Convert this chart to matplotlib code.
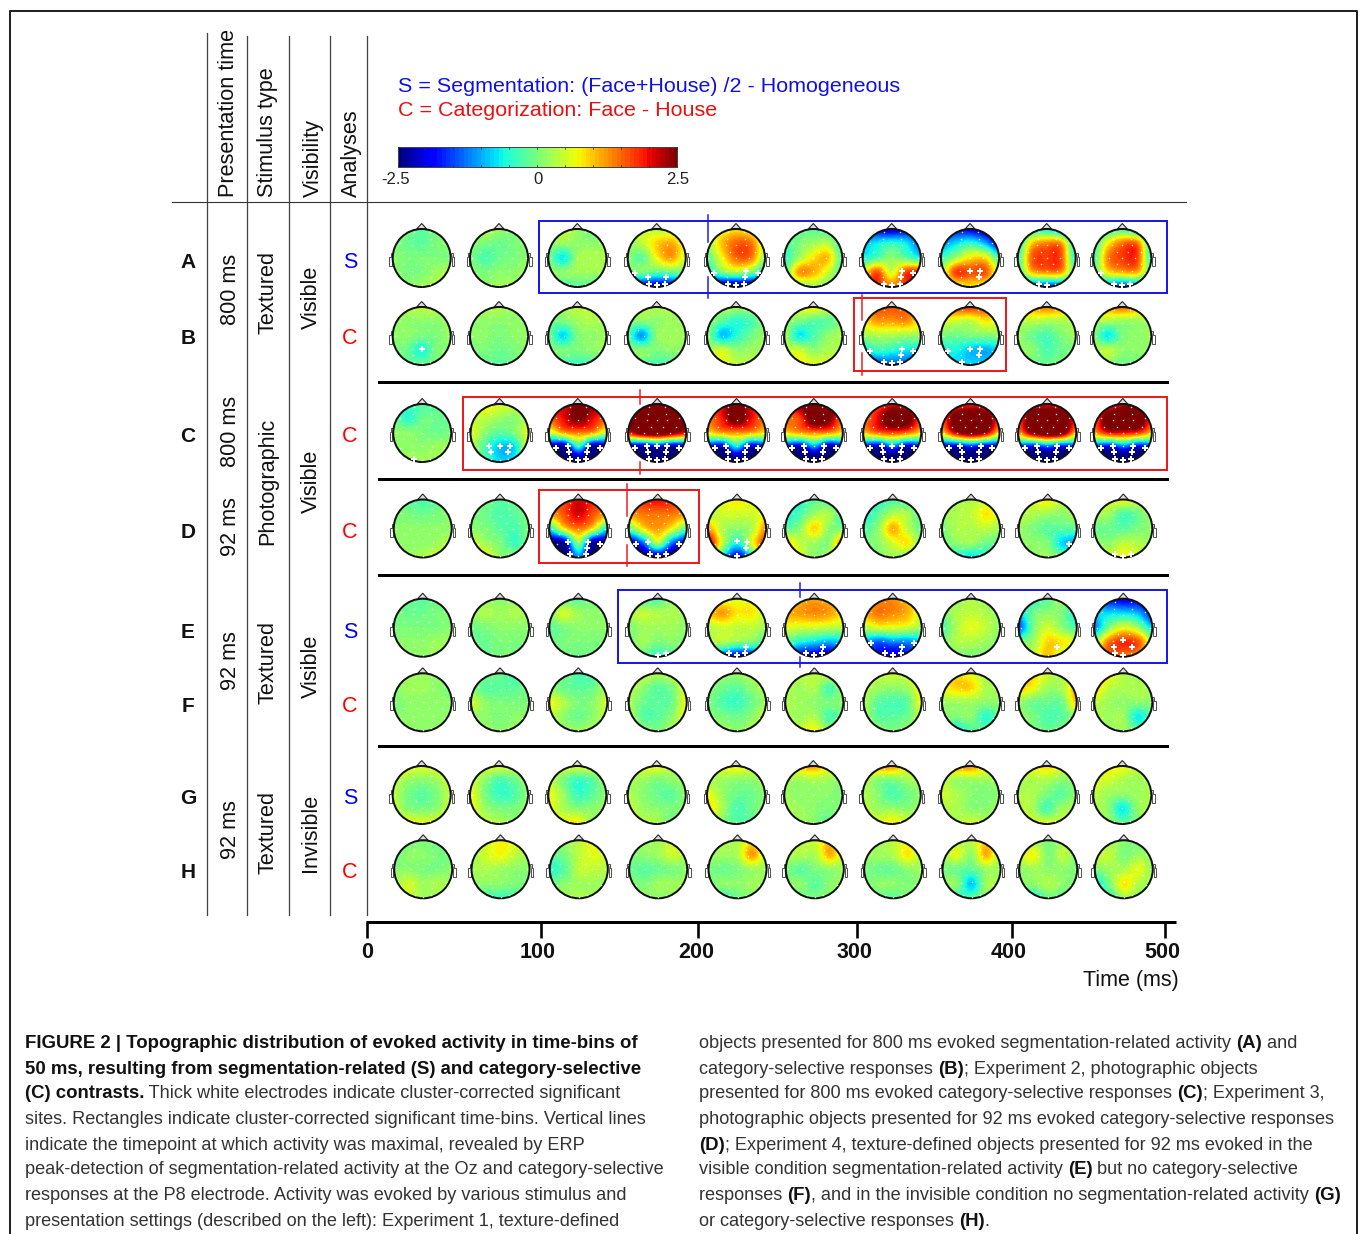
import numpy as np
import matplotlib
matplotlib.use("Agg")
import matplotlib.pyplot as plt
from matplotlib.patches import Circle, Polygon, Rectangle

plt.rcParams["font.family"] = ["Liberation Sans", "DejaVu Sans"]

# scalp maps: 5x5 samples per head, top row first, in tenths of the colour scale
row_a = [
    [-1,0,-2,0,0, 0,-1,-2,0,1, 1,0,0,0,0, 1,0,0,2,3, 1,1,2,3,3],
    [3,4,2,0,0, 1,0,-1,0,0, 0,-3,-1,0,1, 1,0,1,1,2, 1,1,2,2,2],
    [2,4,2,-1,-1, 1,2,1,1,1, 0,-7,2,3,3, 1,1,2,2,2, -2,-3,-2,-2,-2],
    [3,5,3,3,1, 2,4,9,11,6, 1,-2,7,12,5, -1,0,-2,-1,-1, -16,-20,-21,-20,-16],
    [3,6,8,6,1, 2,10,15,14,3, -2,7,15,14,1, -7,0,3,0,-8, -20,-24,-25,-24,-20],
    [-3,-2,-2,-3,-4, -3,0,2,3,-5, -5,2,8,10,-3, -3,12,11,5,-3, -1,0,2,0,-1],
    [-18,-20,-22,-20,-18, -10,-7,-5,-7,-14, -6,-3,1,-2,-6, 6,16,5,17,18, 17,18,14,17,19],
    [-20,-18,-20,-22,-24, -12,-8,-5,-10,-20, -4,2,8,8,-4, 3,17,16,16,4, 3,6,8,6,3],
    [-10,-6,-7,-12,-16, -7,9,13,12,-8, -5,15,17,16,-6, -5,10,13,12,-3, -12,-15,-16,-15,-12],
    [-9,-5,-4,-9,-12, -5,7,14,14,-6, -4,13,17,17,-5, -3,8,11,11,-3, -10,-13,-16,-13,-10],
]
row_b = [
    [3,4,4,4,2, 2,1,1,1,2, 1,1,0,0,2, 0,-1,-6,0,0, 0,-1,-1,0,0],
    [3,3,3,2,1, 1,1,1,1,1, 1,1,0,1,1, 0,0,-1,0,1, 0,-1,-2,-1,0],
    [1,2,4,4,2, -1,0,2,3,2, 0,-8,0,1,2, 0,0,0,1,2, -2,-3,-4,-3,-2],
    [2,3,3,3,2, 0,1,1,2,2, -2,-11,1,2,2, 0,1,0,1,1, -2,-2,-3,-3,-2],
    [2,3,3,2,2, 1,-2,-5,-3,1, 1,-9,-5,-1,2, 2,5,1,2,2, 4,6,4,3,4],
    [6,7,8,6,4, 2,0,-2,-2,1, 3,-7,-3,1,3, 3,5,1,3,2, 6,7,6,5,4],
    [14,16,16,15,12, 8,12,12,13,8, 2,3,3,2,2, -8,-4,-5,-7,-8, -17,-16,-14,-14,-17],
    [15,17,18,16,10, 6,5,4,8,6, 0,-1,0,0,1, -6,-6,-9,-10,-8, -6,-8,-8,-8,-7],
    [9,12,14,12,5, 3,4,3,3,3, 2,-1,-3,0,2, 1,1,-3,-1,0, 0,-1,-1,0,0],
    [8,12,15,12,4, 3,3,2,2,2, 1,-7,0,1,2, 2,4,1,1,1, 0,0,-1,0,0],
]
row_c = [
    [-1,-3,-3,-2,-1, 0,-5,-1,-1,-2, 1,1,0,-1,0, 1,1,1,2,2, 3,3,2,2,2],
    [5,8,6,5,3, 4,4,2,1,3, 6,1,-2,0,6, 4,-3,-9,-8,6, 5,-2,-8,-6,5],
    [18,20,25,24,16, 16,20,26,20,16, 4,12,14,12,3, -22,-25,-6,-25,-22, -32,-32,-28,-32,-32],
    [28,30,32,32,28, 24,30,32,32,26, 20,28,30,26,20, -22,-24,-20,-24,-22, -30,-30,-32,-30,-30],
    [16,20,27,20,16, 14,19,28,20,14, 8,12,13,12,8, -18,-22,-8,-22,-18, -32,-32,-30,-32,-32],
    [15,25,30,28,12, 15,17,30,26,13, 9,12,14,13,8, -18,-22,-12,-24,-18, -32,-32,-32,-32,-32],
    [12,16,20,18,12, 14,20,30,28,16, 10,15,17,15,9, -18,-23,-14,-22,-18, -32,-32,-32,-32,-32],
    [10,16,18,16,8, 14,28,32,30,16, 9,22,28,24,9, -20,-22,-18,-22,-20, -32,-32,-32,-32,-32],
    [12,18,20,18,10, 15,30,32,30,17, 12,26,30,28,10, -16,-20,-15,-20,-16, -32,-32,-32,-32,-32],
    [10,15,22,24,15, 14,30,32,32,16, 12,20,20,18,10, -16,-20,-14,-20,-16, -32,-32,-32,-32,-32],
]
row_d = [
    [0,-2,-3,-2,0, 0,0,-1,0,1, 1,1,1,1,1, 1,1,1,2,4, 2,2,3,5,5],
    [1,0,-2,-1,0, 0,-1,-3,-2,0, 1,0,-2,-3,0, 5,2,0,-4,1, 8,7,1,2,4],
    [13,16,21,18,12, 12,16,21,16,12, -6,8,14,8,-7, -24,-24,1,-24,-23, -28,-26,-12,-26,-28],
    [12,18,20,18,12, 12,14,14,14,12, -2,8,12,7,-2, -22,-14,3,-13,-20, -28,-26,-24,-26,-28],
    [6,7,8,7,6, 3,5,5,5,7, 12,3,1,3,13, 22,4,-6,6,18, 18,-6,-20,-6,16],
    [-4,-5,-2,-3,-3, -6,-3,2,3,-4, -2,1,9,1,0, 10,4,2,1,15, 12,6,1,3,14],
    [-6,-5,-3,-3,-3, -6,-2,3,3,-3, -3,1,11,4,-1, 0,1,5,8,0, -1,0,2,0,-1],
    [2,3,3,4,4, 2,3,4,8,5, 0,3,3,4,2, -1,1,2,-1,-1, -3,-6,-8,-5,-2],
    [4,6,8,4,2, 4,3,2,1,3, 2,0,-2,-2,-2, 1,1,0,-8,-10, 2,1,2,0,-1],
    [3,6,7,6,3, 3,2,-3,-1,3, -1,-1,-2,0,1, 2,1,4,3,2, 4,5,7,5,3],
]
row_e = [
    [0,-1,-2,-1,0, 0,-1,-1,0,0, 0,0,0,0,1, 1,1,1,2,2, 1,1,1,2,2],
    [0,1,1,1,1, 2,3,2,3,2, -1,0,1,1,1, -1,-1,0,0,0, -1,-1,0,0,0],
    [-2,-2,-2,0,1, 1,5,2,1,1, -2,0,1,1,1, -1,0,0,0,0, 0,0,-1,0,0],
    [-3,-3,-3,1,1, 3,4,3,3,2, 0,2,2,2,1, 0,2,0,1,0, 0,-1,-5,-3,-1],
    [3,5,6,6,2, 10,12,8,8,3, 3,5,4,4,2, 3,3,1,0,-3, -2,-14,-20,-18,-6],
    [5,10,12,10,5, 11,12,13,12,8, 6,5,5,4,3, -2,-6,-8,-10,-8, -12,-20,-21,-22,-14],
    [7,12,13,10,3, 11,14,13,11,5, 3,6,6,5,2, -9,-14,-12,-12,-9, -16,-18,-22,-18,-16],
    [1,2,3,2,0, 0,3,4,3,1, -3,3,6,4,1, 0,3,3,2,0, 0,0,0,0,0],
    [-7,-5,-2,2,-5, -8,-1,1,0,-6, -15,-1,5,1,-3, 0,2,9,8,5, 1,4,10,4,0],
    [-16,-18,-20,-20,-22, -8,-8,-8,-10,-18, -12,0,6,2,-8, 2,14,18,16,4, 8,16,14,12,6],
]
row_f = [
    [1,2,2,1,1, 1,2,2,1,0, 0,1,1,1,1, 1,1,1,1,1, 2,2,1,1,2],
    [0,0,-1,-3,0, 0,-2,-2,-2,0, 5,1,0,0,0, 1,1,0,1,1, 1,1,1,1,1],
    [2,0,-3,-3,1, 1,-1,-2,-1,3, 7,3,0,1,5, 4,1,-1,1,4, 3,2,2,3,3],
    [6,5,3,4,6, 4,1,-2,0,6, 3,-1,-2,-1,7, 4,-2,-2,1,7, 5,2,0,3,5],
    [3,2,2,3,3, 1,-1,-2,1,3, 0,-3,-4,-1,2, 1,0,-1,1,5, 2,2,1,3,4],
    [3,4,4,5,4, 3,2,3,-3,2, 3,2,1,0,1, 3,2,3,-3,0, 4,5,7,2,2],
    [4,4,5,5,7, 4,2,1,2,7, 3,-2,-3,-2,7, 3,-2,-2,-1,4, 2,2,0,2,4],
    [8,9,6,3,3, 7,9,9,3,3, 2,2,2,1,1, 1,0,1,-5,0, -3,-7,-3,-1,0],
    [10,9,5,2,4, 10,7,2,3,11, 2,-1,-1,-1,10, 2,0,-3,-2,1, 1,0,-1,0,1],
    [11,8,3,2,3, 10,4,3,3,3, 4,2,1,1,1, 3,2,2,-7,-1, 2,2,2,0,0],
]
row_g = [
    [7,7,6,6,7, 5,2,1,2,5, 4,0,-2,0,4, 5,1,0,1,5, 7,7,6,6,6],
    [5,6,6,5,3, 5,1,-3,-1,2, 7,0,-4,-3,1, 7,2,0,0,2, 4,4,3,1,1],
    [6,6,6,6,4, 5,0,-4,-2,2, 7,2,-4,-2,1, 7,3,1,1,2, 6,7,8,2,1],
    [4,6,7,4,3, 2,2,0,1,2, 3,1,-1,-2,1, 5,2,1,0,1, 4,3,3,-1,0],
    [6,7,8,6,3, 3,2,1,1,2, 7,2,-1,-1,1, 9,3,-3,-1,1, 3,0,-2,-2,0],
    [8,10,12,8,4, 3,2,3,2,1, 2,1,1,1,0, 3,2,1,0,1, 2,2,1,-2,0],
    [10,12,13,8,4, 5,1,0,2,3, 3,1,-3,-1,1, 5,2,2,1,2, 7,6,8,6,4],
    [10,12,13,9,5, 5,2,2,2,2, 5,3,1,0,1, 3,3,1,1,2, 3,3,5,3,2],
    [4,7,9,7,3, 3,3,3,1,1, 3,3,0,-2,1, 4,3,-3,2,3, 6,5,6,4,3],
    [7,8,7,5,3, 6,5,3,2,3, 4,2,1,2,3, 3,1,-7,1,3, 3,2,-1,0,2],
]
row_h = [
    [-1,0,0,-1,-1, -1,1,1,0,-1, 1,1,0,0,1, 2,5,2,3,2, 2,4,2,2,2],
    [2,5,7,7,3, 2,5,7,4,2, 2,3,2,1,1, 1,1,1,0,0, -2,-3,-4,-3,0],
    [0,2,4,7,3, -2,0,4,6,4, -5,-2,4,4,3, -1,1,2,2,2, 1,2,3,2,2],
    [1,2,2,5,2, 0,1,2,5,2, -1,-2,-1,0,1, 1,0,2,2,2, 2,2,1,1,1],
    [1,3,3,8,3, 2,2,3,12,3, 0,-1,0,2,2, 0,1,1,2,2, -2,-4,-1,1,1],
    [3,4,5,10,4, 3,3,3,11,3, 0,-2,0,1,2, 1,1,-2,1,2, -1,-1,0,1,2],
    [1,2,4,6,3, 2,2,3,8,2, 0,-1,-1,1,2, 0,1,1,0,1, -1,-1,-2,1,1],
    [2,3,4,9,4, 2,6,1,11,2, 0,-1,-2,2,2, 1,1,-9,2,2, -3,-5,-2,1,1],
    [1,2,0,2,1, 5,7,0,4,0, 1,2,1,1,0, 1,1,3,1,0, -3,-6,-1,-2,-1],
    [0,2,1,-1,0, 4,4,0,2,1, 0,2,3,6,1, -7,0,8,3,2, -3,-4,2,1,1],
]

row_names = list("ABCDEFGH")
row_maps = [row_a, row_b, row_c, row_d, row_e, row_f, row_g, row_h]
row_analyses = ["S", "C", "C", "C", "S", "C", "S", "C"]

# electrode layout, head radius = 1
electrodes = {
    "Fp1": (-.28, -.88), "Fp2": (.28, -.88), "AF3": (-.31, -.66), "AF4": (.31, -.66),
    "F7": (-.75, -.53), "F3": (-.35, -.46), "Fz": (0, -.44), "F4": (.35, -.46), "F8": (.75, -.53),
    "FC5": (-.65, -.2), "FC1": (-.2, -.2), "FC2": (.2, -.2), "FC6": (.65, -.2),
    "T7": (-.92, 0), "C3": (-.45, 0), "Cz": (0, 0), "C4": (.45, 0), "T8": (.92, 0),
    "CP5": (-.65, .2), "CP1": (-.2, .2), "CP2": (.2, .2), "CP6": (.65, .2),
    "P7": (-.75, .53), "P3": (-.35, .46), "Pz": (0, .44), "P4": (.35, .46), "P8": (.75, .53),
    "PO3": (-.31, .66), "PO4": (.31, .66), "O1": (-.28, .88), "Oz": (0, .94), "O2": (.28, .88),
}

back_all = "P7 P3 P4 P8 PO3 PO4 O1 Oz O2"
significant = {
    ("A", 3): "P7 PO3 PO4 O1 Oz O2", ("A", 4): "P7 O1 Oz O2 PO4 P4 P8",
    ("A", 6): "P4 P8 PO4 O1 Oz O2", ("A", 7): "Pz P4 PO4", ("A", 8): "O1 Oz",
    ("A", 9): "P7 O1 Oz O2",
    ("B", 0): "Pz", ("B", 6): "P7 P4 P8 PO4 O1 Oz O2", ("B", 7): "P7 Pz P4 PO4 O1",
    ("C", 0): "O1", ("C", 1): "P3 Pz P4 PO3 PO4", ("C", 2): back_all,
    ("C", 3): back_all + " Pz", ("C", 4): back_all, ("C", 5): back_all,
    ("C", 6): back_all + " Pz", ("C", 7): back_all, ("C", 8): back_all, ("C", 9): back_all,
    ("D", 2): "P3 P4 P8 PO4 O1 O2", ("D", 3): "P7 P3 P8 O1 Oz O2",
    ("D", 4): "Pz P4 PO4 Oz", ("D", 8): "P8", ("D", 9): "O1 Oz O2",
    ("E", 3): "Oz O2", ("E", 4): "PO4 O1 Oz O2", ("E", 5): "PO4 O1 Oz O2",
    ("E", 6): "P7 P8 PO4 O1 Oz O2", ("E", 8): "PO4", ("E", 9): "Pz PO3 PO4 O1 Oz",
}

time_ticks = [0, 100, 200, 300, 400, 500]
colorbar_labels = ["-2.5", "0", "2.5"]

# layout in pixels
head_x = [421.7, 499, 577.3, 656.7, 736, 813.3, 891.7, 970, 1046.7, 1122.3]
head_y = [258, 336, 433, 528.5, 627.7, 702.3, 795, 869.3]
row_dx = [0, 0, .5, 1, 1, 1, 0, 1.5]
R = 29
tick_px = [367, 541, 698, 856.7, 1011.7, 1165]
ticklabel_px = [367.5, 538, 696, 854, 1009, 1162]

boxes = [
    (539, 220.5, 1166.5, 293, "#1a1af0"), (853.5, 298, 1006, 371, "#f01a1a"),
    (462.5, 397, 1167, 470, "#f01a1a"), (538.5, 490, 698.5, 563, "#f01a1a"),
    (618, 590, 1167, 663, "#1a1af0"),
]
peaks = [
    (708, 215, 242, 277, 298, "#1a1af0"), (862.3, 295, 320, 353, 375, "#f01a1a"),
    (640, 390, 404, 462, 474, "#f01a1a"), (626.7, 484, 516, 545, 566, "#f01a1a"),
    (800.3, 583, 597, 657, 667, "#1a1af0"),
]

fig = plt.figure(figsize=(13.6, 12.34), dpi=100)
ax = fig.add_axes([0, 0, 1, 1])
ax.axis("off")
cmap = plt.get_cmap("jet", 64)
px = 0.72  # one pixel in points

# outer frame, open at the bottom
ax.plot([9.5, 9.5, 1357, 1357], [1234, 11, 11, 1234], color="#222222", lw=2 * px)

# table rules
for x, top in zip([207, 247, 289, 330, 367], [33, 36, 36, 36, 36]):
    ax.plot([x, x], [top, 915], color="#444444", lw=1.3 * px)
ax.plot([172, 1186], [202, 202], color="#333333", lw=1.1 * px)
for y in [381.5, 478.5, 575, 746]:
    ax.plot([379, 1167], [y, y], color="black", lw=3 * px)

# headers and condition labels
headers = [(229, "Presentation time"), (268, "Stimulus type"), (313, "Visibility"), (351, "Analyses")]
for x, s in headers:
    ax.text(x, 197, s, rotation=90, ha="center", va="bottom", fontsize=15.6, color="#111111")
col_labels = [
    (230, 289, "800 ms"), (231, 431, "800 ms"), (230, 527, "92 ms"), (230, 661, "92 ms"), (230, 830, "92 ms"),
    (268, 293, "Textured"), (268, 481, "Photographic"), (268, 663, "Textured"), (268, 833, "Textured"),
    (311, 297, "Visible"), (311, 481, "Visible"), (311, 666, "Visible"), (310, 833, "Invisible"),
]
for x, y, s in col_labels:
    ax.text(x, y, s, rotation=90, ha="center", va="center", fontsize=15.6, color="#111111")

label_y = [263, 339, 436, 533, 632, 706, 798, 872]
for name, kind, y in zip(row_names, row_analyses, label_y):
    ax.text(188, y, name, ha="center", va="center", fontsize=15, fontweight="bold", color="#111111")
    ax.text(350, y, kind, ha="center", va="center", fontsize=15.5, color="blue" if kind == "S" else "red")

# legend text and colour bar
ax.text(398, 86, "S = Segmentation: (Face+House) /2 - Homogeneous", color="#1010e0", fontsize=15.45, va="center")
ax.text(398, 111, "C = Categorization: Face - House", color="#e81010", fontsize=15.45, va="center")
ax.imshow(np.linspace(-2.5, 2.5, 64)[None, :], cmap=cmap, vmin=-2.5, vmax=2.5, extent=(397.5, 677, 167, 147),
          aspect="auto", interpolation="nearest")
ax.add_patch(Rectangle((397.5, 147), 279.5, 20, fc="none", ec="#444444", lw=1 * px))
for v in np.arange(-2.5, 2.51, 0.5):
    x = 537.25 + v * 55.9
    ax.plot([x, x], [147, 149], color="#333333", lw=.8 * px)
    ax.plot([x, x], [165, 167], color="#333333", lw=.8 * px)
for x, s in zip([396, 537.5, 678], colorbar_labels):
    ax.text(x, 179.5, s, ha="center", va="center", fontsize=12, color="#222222")

# significance rectangles and peak markers
for x0, y0, x1, y1, c in boxes:
    ax.add_patch(Rectangle((x0, y0), x1 - x0, y1 - y0, fc="none", ec=c, lw=2 * px, zorder=2))
for x, a, b, c_, d, col in peaks:
    ax.plot([x, x], [a, b], color=col, lw=1.5 * px, zorder=2)
    ax.plot([x, x], [c_, d], color=col, lw=1.5 * px, zorder=2)

# heads
for r, (name, maps) in enumerate(zip(row_names, row_maps)):
    cy = head_y[r]
    for c, values in enumerate(maps):
        cx = head_x[c] + row_dx[r]
        grid = np.array(values, dtype=float).reshape(5, 5) / 10
        # grid samples sit at -1, -.5, 0, .5, 1 head radii
        im = ax.imshow(grid, cmap=cmap, vmin=-2.5, vmax=2.5, aspect="auto", zorder=3,
                       extent=(cx - 1.25 * R, cx + 1.25 * R, cy + 1.25 * R, cy - 1.25 * R),
                       interpolation="catrom", interpolation_stage="data")
        im.set_clip_path(Circle((cx, cy), R, transform=ax.transData))
        ax.add_patch(Circle((cx, cy), R, fc="none", ec="#111111", lw=2 * px, zorder=5))
        ax.add_patch(Polygon([(cx - 5, cy - R), (cx, cy - R - 5.5), (cx + 5, cy - R)], closed=True,
                             fc="#dddddd", ec="#222222", lw=1.1 * px, zorder=4))
        for sign in (-1, 1):
            ear = [(cx + sign * R, cy - 5), (cx + sign * (R + 2), cy - 5), (cx + sign * (R + 2), cy - 1),
                   (cx + sign * (R + 3.5), cy - 1), (cx + sign * (R + 3.5), cy + 8), (cx + sign * (R + 1), cy + 8),
                   (cx + sign * (R + 1), cy)]
            ax.add_patch(Polygon(ear, closed=True, fc="white", ec="#555555", lw=1 * px, zorder=4))
        ex = [cx + p[0] * R for p in electrodes.values()]
        ey = [cy + p[1] * R for p in electrodes.values()]
        ax.scatter(ex, ey, s=1.2, c="white", linewidths=0, zorder=6, alpha=.85)
        sig = significant.get((name, c), "").split()
        if sig:
            ax.scatter([cx + electrodes[k][0] * R for k in sig], [cy + electrodes[k][1] * R for k in sig],
                       s=13, marker="P", c="white", linewidths=0, zorder=7)

# time axis
ax.plot([365.5, 1176], [922, 922], color="black", lw=3 * px, solid_capstyle="butt")
for x, t, lx in zip(tick_px, time_ticks, ticklabel_px):
    ax.plot([x, x], [922, 938], color="black", lw=2.6 * px, solid_capstyle="butt")
    ax.text(lx, 952.5, str(t), ha="center", va="center", fontsize=15.5, fontweight="bold", color="#111111")
ax.text(1179, 980.5, "Time (ms)", ha="right", va="center", fontsize=15.5, color="#111111")

# caption, **...** marks bold runs
left_col = [
    "**FIGURE 2 | Topographic distribution of evoked activity in time-bins of**",
    "**50 ms, resulting from segmentation-related (S) and category-selective**",
    "**(C) contrasts.** Thick white electrodes indicate cluster-corrected significant",
    "sites. Rectangles indicate cluster-corrected significant time-bins. Vertical lines",
    "indicate the timepoint at which activity was maximal, revealed by ERP",
    "peak-detection of segmentation-related activity at the Oz and category-selective",
    "responses at the P8 electrode. Activity was evoked by various stimulus and",
    "presentation settings (described on the left): Experiment 1, texture-defined",
]
right_col = [
    "objects presented for 800 ms evoked segmentation-related activity **(A)** and",
    "category-selective responses **(B)**; Experiment 2, photographic objects",
    "presented for 800 ms evoked category-selective responses **(C)**; Experiment 3,",
    "photographic objects presented for 92 ms evoked category-selective responses",
    "**(D)**; Experiment 4, texture-defined objects presented for 92 ms evoked in the",
    "visible condition segmentation-related activity **(E)** but no category-selective",
    "responses **(F)**, and in the invisible condition no segmentation-related activity **(G)**",
    "or category-selective responses **(H)**.",
]
caption_y = [1042, 1067, 1092, 1118, 1143, 1168, 1193, 1219]
ax.set_xlim(0, 1360)
ax.set_ylim(1234, 0)
renderer = fig.canvas.get_renderer()


def caption_line(x, y, line):
    for i, run in enumerate(line.split("**")):
        if not run:
            continue
        bold = i % 2 == 1
        t = ax.text(x, y, run, ha="left", va="center_baseline", fontsize=13.4 if bold else 13.05,
                    fontweight="bold" if bold else "normal", color="#111111" if bold else "#333333")
        x += t.get_window_extent(renderer).width


for y, a, b in zip(caption_y, left_col, right_col):
    caption_line(25, y, a)
    caption_line(699, y, b)

fig.savefig("out.png", dpi=100)
